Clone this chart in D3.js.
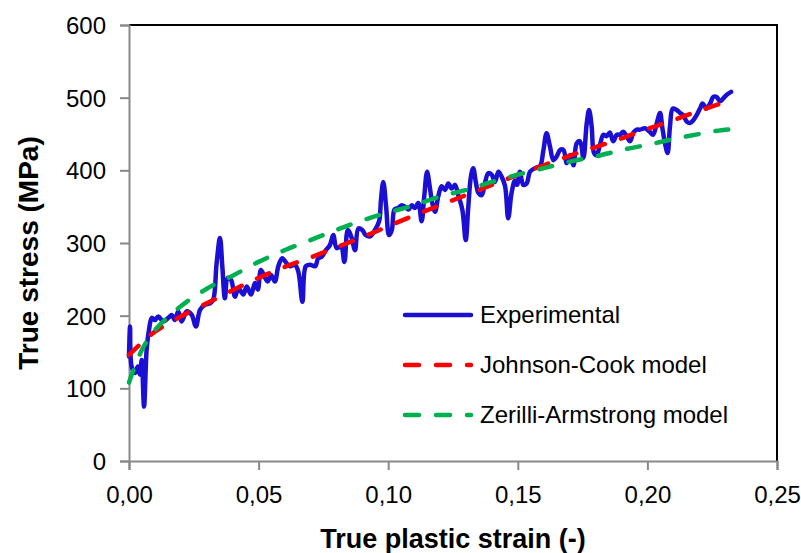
<!DOCTYPE html>
<html>
<head>
<meta charset="utf-8">
<script src="https://cdn.jsdelivr.net/npm/d3@7"></script>
<style>
  body { margin: 0; background: #fff; }
  svg text { font-family: "Liberation Sans", Arial, sans-serif; fill: #000; }
</style>
</head>
<body>
<svg width="801" height="553"></svg>
<script>
// experimental curve (true plastic strain, true stress MPa)
const expStrain = [0, 0.0004, 0.0010, 0.0023, 0.0034, 0.0042, 0.0049, 0.0058, 0.0068, 0.0077, 0.0088, 0.0100,
  0.0113, 0.0132, 0.0152, 0.0165, 0.0177, 0.0190, 0.0203, 0.0223, 0.0242, 0.0258, 0.0274, 0.0293, 0.0313,
  0.0325, 0.0338, 0.0351, 0.0360, 0.0370, 0.0381, 0.0394, 0.0409, 0.0422, 0.0441, 0.0454, 0.0471, 0.0486,
  0.0497, 0.0509, 0.0525, 0.0535, 0.0548, 0.0563, 0.0576, 0.0591, 0.0608, 0.0621, 0.0640, 0.0653, 0.0669,
  0.0682, 0.0698, 0.0718, 0.0730, 0.0743, 0.0759, 0.0775, 0.0788, 0.0801, 0.0818, 0.0831, 0.0844, 0.0859,
  0.0872, 0.0885, 0.0900, 0.0913, 0.0930, 0.0949, 0.0965, 0.0972, 0.0981, 0.0992, 0.1003, 0.1014, 0.1024,
  0.1037, 0.1052, 0.1065, 0.1078, 0.1091, 0.1103, 0.1116, 0.1129, 0.1139, 0.1150, 0.1160, 0.1170, 0.1181,
  0.1193, 0.1206, 0.1219, 0.1232, 0.1245, 0.1258, 0.1270, 0.1286, 0.1299, 0.1309, 0.1319, 0.1328, 0.1338,
  0.1348, 0.1361, 0.1373, 0.1386, 0.1399, 0.1412, 0.1425, 0.1438, 0.1451, 0.1463, 0.1476, 0.1489, 0.1497,
  0.1508, 0.1521, 0.1534, 0.1547, 0.1566, 0.1586, 0.1598, 0.1611, 0.1624, 0.1637, 0.1650, 0.1663, 0.1676,
  0.1689, 0.1702, 0.1715, 0.1727, 0.1740, 0.1753, 0.1766, 0.1775, 0.1785, 0.1794, 0.1804, 0.1817, 0.1830,
  0.1843, 0.1855, 0.1868, 0.1882, 0.1894, 0.1907, 0.1920, 0.1933, 0.1946, 0.1959, 0.1971, 0.1991, 0.2009,
  0.2022, 0.2036, 0.2049, 0.2057, 0.2068, 0.2078, 0.2087, 0.2098, 0.2113, 0.2126, 0.2138, 0.2152, 0.2164,
  0.2177, 0.2190, 0.2203, 0.2213, 0.2229, 0.2242, 0.2254, 0.2267, 0.2280, 0.2293, 0.2306, 0.2323];
const expStress = [144, 185, 130, 121, 130, 119, 139, 75, 153, 180, 197, 194,
  199, 192, 197, 201, 194, 206, 192, 206, 201, 185, 208, 215, 217,
  222, 272, 307, 268, 224, 252, 249, 226, 238, 229, 240, 229, 245,
  236, 263, 252, 247, 256, 247, 268, 279, 272, 268, 270, 261, 219,
  268, 270, 268, 279, 281, 290, 297, 311, 293, 295, 274, 318, 307,
  290, 320, 318, 311, 309, 318, 330, 359, 384, 350, 311, 318, 346,
  348, 352, 350, 346, 352, 348, 355, 330, 364, 398, 378, 355, 343,
  364, 378, 373, 382, 375, 380, 366, 346, 304, 350, 391, 403, 384,
  369, 366, 382, 396, 394, 384, 398, 391, 378, 334, 369, 386, 380,
  398, 380, 382, 398, 403, 406, 426, 451, 433, 414, 419, 428, 428,
  410, 421, 407, 437, 440, 417, 465, 483, 460, 424, 421, 435, 449,
  447, 452, 440, 449, 449, 453, 447, 440, 452, 456, 456, 458, 453,
  449, 465, 479, 460, 437, 424, 460, 485, 483, 479, 476, 467, 465,
  469, 476, 485, 492, 485, 492, 501, 501, 495, 499, 504, 508];

// Johnson-Cook model
const jcStrain = [0, 0.005, 0.01, 0.02, 0.03, 0.04, 0.05, 0.06, 0.07, 0.08, 0.09, 0.10, 0.11, 0.12,
  0.13, 0.14, 0.15, 0.16, 0.17, 0.18, 0.19, 0.20, 0.21, 0.22, 0.23, 0.2323];
const jcStress = [146, 163, 178, 199, 217, 235, 252, 267, 280, 294, 308, 323, 338, 352,
  366, 380, 394, 407, 420, 432, 444, 457, 469, 482, 494, 497];

// Zerilli-Armstrong model
const zaStrain = [0, 0.005, 0.01, 0.02, 0.03, 0.04, 0.05, 0.06, 0.07, 0.08, 0.09, 0.10, 0.11, 0.12,
  0.13, 0.14, 0.15, 0.16, 0.17, 0.18, 0.19, 0.20, 0.21, 0.22, 0.23, 0.2323];
const zaStress = [108, 153, 180, 213, 237, 255, 274, 290, 304, 318, 331, 342, 352, 364,
  373, 384, 394, 403, 412, 419, 428, 435, 443, 450, 456, 456];

const xTicks = [0, 0.05, 0.10, 0.15, 0.20, 0.25];
const yTicks = [0, 100, 200, 300, 400, 500, 600];

const seriesNames = ["Experimental", "Johnson-Cook model", "Zerilli-Armstrong model"];
const seriesColors = ["#1a0fd2", "#ff0000", "#00b050"];

let svg = d3.select("svg");
let m = { left: 129, right: 777, top: 25, bottom: 461 };

let x = d3.scaleLinear().domain([0, 0.25]).range([m.left, m.right]);
let y = d3.scaleLinear().domain([0, 600]).range([m.bottom, m.top]);

let fmt = d3.format(".2f");

// plot area border (top/right black)
svg.append("path")
  .attr("d", "M" + m.left + "," + m.top + "H" + m.right + "V" + m.bottom)
  .attr("fill", "none")
  .attr("stroke", "#000")
  .attr("stroke-width", 2);

// axes
let xAxis = svg.append("g")
  .attr("transform", "translate(0," + m.bottom + ")")
  .call(d3.axisBottom(x).tickValues(xTicks).tickSize(9).tickFormat(d => fmt(d).replace(".", ",")));
let yAxis = svg.append("g")
  .attr("transform", "translate(" + m.left + ",0)")
  .call(d3.axisLeft(y).tickValues(yTicks).tickSize(9));

[xAxis, yAxis].forEach(a => {
  a.select(".domain").attr("stroke", "#898989").attr("stroke-width", 2);
  a.selectAll(".tick line").attr("stroke", "#898989").attr("stroke-width", 2);
  a.selectAll(".tick text")
    .attr("font-family", "Liberation Sans, Arial, sans-serif")
    .attr("font-size", 24)
    .attr("fill", "#000");
});
xAxis.selectAll(".tick text").attr("y", 25);
yAxis.selectAll(".tick text").attr("x", -23).attr("dy", "0.35em");

// lines
let line = d3.line()
  .x(d => x(d[0]))
  .y(d => y(d[1]))
  .curve(d3.curveCatmullRom.alpha(0.5));

let expData = expStrain.map((s, i) => [s, expStress[i]]);
let jcData = jcStrain.map((s, i) => [s, jcStress[i]]);
let zaData = zaStrain.map((s, i) => [s, zaStress[i]]);

svg.append("path")
  .datum(expData)
  .attr("d", line)
  .attr("fill", "none")
  .attr("stroke", seriesColors[0])
  .attr("stroke-width", 4.5)
  .attr("stroke-linejoin", "round")
  .attr("stroke-linecap", "round");

svg.append("path")
  .datum(jcData)
  .attr("d", line)
  .attr("fill", "none")
  .attr("stroke", seriesColors[1])
  .attr("stroke-width", 4.5)
  .attr("stroke-dasharray", "13,17")
  .attr("stroke-linecap", "round");

svg.append("path")
  .datum(zaData)
  .attr("d", line)
  .attr("fill", "none")
  .attr("stroke", seriesColors[2])
  .attr("stroke-width", 4.5)
  .attr("stroke-dasharray", "13,17")
  .attr("stroke-linecap", "round");

// legend
let legend = svg.append("g").attr("class", "legend");
seriesNames.forEach((name, i) => {
  let ly = 315 + i * 50;
  let ln = legend.append("line")
    .attr("x1", 405).attr("x2", 471)
    .attr("y1", ly).attr("y2", ly)
    .attr("stroke", seriesColors[i])
    .attr("stroke-width", 4.5)
    .attr("stroke-linecap", "round");
  if (i > 0) ln.attr("stroke-dasharray", "14,17");
  legend.append("text")
    .attr("x", 480)
    .attr("y", ly + 8)
    .attr("font-size", 24)
    .text(name);
});

// axis titles
svg.append("text")
  .attr("x", 453)
  .attr("y", 548)
  .attr("text-anchor", "middle")
  .attr("font-size", 27)
  .attr("font-weight", "bold")
  .text("True plastic strain (-)");

svg.append("text")
  .attr("transform", "translate(38,253) rotate(-90)")
  .attr("text-anchor", "middle")
  .attr("font-size", 28)
  .attr("font-weight", "bold")
  .text("True stress (MPa)");
</script>
</body>
</html>
